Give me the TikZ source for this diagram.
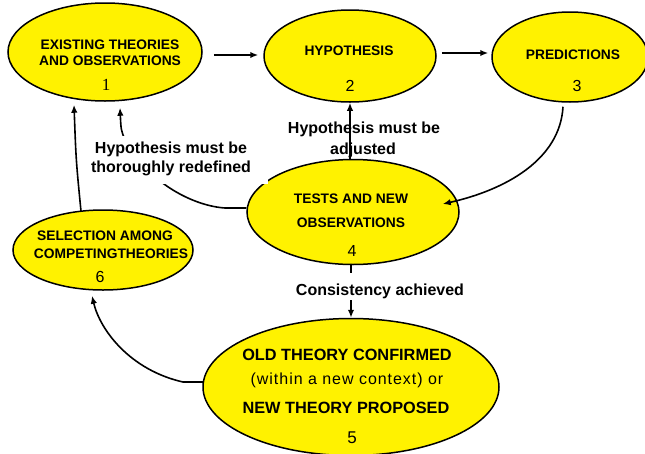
\documentclass[tikz,border=0pt]{standalone}
\usepackage{fontspec}
\setmainfont{Liberation Sans}
\newfontfamily\serifnum{Liberation Serif}
\newfontfamily\spacedsans[LetterSpace=6]{Liberation Sans}
\usetikzlibrary{shapes.geometric,arrows.meta,calc}
\begin{document}
\begin{tikzpicture}[x=1pt,y=-1pt,
  oval/.style={ellipse,draw=black,line width=1.5pt,fill=yellow,inner sep=0pt},
  captext/.style={font=\fontsize{13.8}{15}\selectfont\bfseries,inner sep=0pt,anchor=base},
  bigcap/.style={font=\fontsize{16.3}{18}\selectfont\bfseries,inner sep=0pt,anchor=base},
  lab/.style={font=\fontsize{16}{18}\selectfont\bfseries,inner sep=0pt,anchor=base},
  num/.style={font=\fontsize{16}{18}\selectfont,inner sep=0pt,anchor=base},
  conn/.style={line width=1.6pt,-{Latex[length=8pt,width=6.5pt]}}
]
\clip (0,0) rectangle (645,453);
\fill[white] (0,0) rectangle (645,453);

% ellipses
\node[oval,minimum width=194pt,minimum height=98pt] (e1) at (105,52) {};
\node[oval,minimum width=172pt,minimum height=92pt] (e2) at (350,56) {};
\node[oval,minimum width=156pt,minimum height=90pt] (e3) at (570,57) {};
\node[oval,minimum width=212pt,minimum height=105pt] (e4) at (353,212) {};
\node[oval,minimum width=180pt,minimum height=80pt] (e6) at (103,250) {};
\node[oval,minimum width=296pt,minimum height=137pt] (e5) at (351,387) {};

% connectors
\draw[conn] ($(e1.east)+(11,3)$) -- ($(e2.west)+(-5,-1)$);
\draw[conn] ($(e2.east)+(5,-3)$) -- ($(e3.west)+(-3,-4)$);
\draw[conn] ($(e3.south)+(-7,4)$) .. controls (560,160) and (505,190) .. ($(e4.east)+(-17,-8)$);
\draw[conn] (e2.south |- e4.north) -- (e2.south);
\draw[conn] (e5.north |- e4.south) -- (e5.north);
\draw[conn] ($(e4.west)+(0,-4)$) -- (225,208) .. controls (195,206) and (150,185) .. (125,140) .. controls (121,130) .. ($(e1.south)+(15,6)$);
\draw[conn] ($(e6.north)+(-22,2)$) .. controls (76,160) .. ($(e1.south)+(-31,3)$);
\draw[conn] ($(e5.west)+(1,-5)$) -- (183,382) .. controls (130,370) and (100,330) .. ($(e6.south)+(-11,5)$);

% mask behind left label
\fill[white] (85,136) rectangle (268,184);

% node texts
\node[captext] (t1a) at (110,49) {EXISTING THEORIES};
\node[captext] (t1b) at (110,65) {AND OBSERVATIONS};
\node[font=\serifnum\fontsize{17}{18}\selectfont,inner sep=0pt,anchor=base] (n1) at (106,90) {1};

\node[captext] (t2) at (349,55) {HYPOTHESIS};
\node[num] (n2) at (350,91) {2};

\node[captext] (t3) at (573,59) {PREDICTIONS};
\node[num] (n3) at (577,91) {3};

\node[captext] (t4a) at (351,203) {TESTS AND NEW};
\node[captext] (t4b) at (351,227) {OBSERVATIONS};
\node[num] (n4) at (352,256) {4};

\node[captext] (t6a) at (105,240) {SELECTION AMONG};
\node[captext] (t6b) at (111,258) {COMPETINGTHEORIES};
\node[num] (n6) at (100,282) {6};

\node[bigcap] (t5a) at (347,360) {OLD THEORY CONFIRMED};
\node[font=\spacedsans\fontsize{16}{18}\selectfont,inner sep=0pt,anchor=base] (t5b) at (347,384) {(within a new context) or};
\node[bigcap] (t5c) at (346,413) {NEW THEORY PROPOSED};
\node[font=\fontsize{17}{18}\selectfont,inner sep=0pt,anchor=base] (n5) at (352,443) {5};

% labels
\node[lab] (l1a) at (171,153) {Hypothesis must be};
\node[lab] (l1b) at (171,172) {thoroughly redefined};
\node[lab] (l2a) at (364,133) {Hypothesis must be};
\node[lab] (l2b) at (363,154) {adjusted};
\node[lab,fill=white,inner xsep=2pt,text height=22pt,text depth=5pt] (l3) at (380,295) {Consistency achieved};
\end{tikzpicture}
\end{document}
